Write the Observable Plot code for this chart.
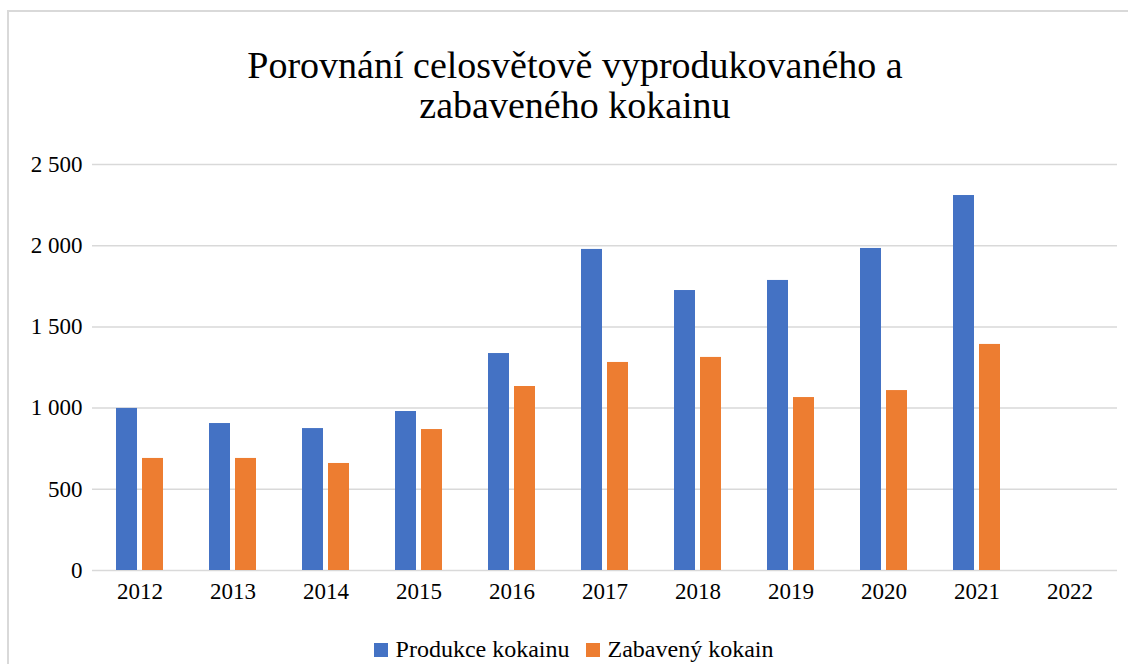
<!DOCTYPE html>
<html>
<head>
<meta charset="utf-8">
<script src="https://cdn.jsdelivr.net/npm/d3@7"></script>
<script src="https://cdn.jsdelivr.net/npm/@observablehq/plot@0.6"></script>
<style>
  html, body { margin: 0; padding: 0; background: #fff; }
  body { width: 1128px; height: 664px; overflow: hidden; position: relative; font-family: "Liberation Serif", "Times New Roman", serif; }
  #frame { position: absolute; z-index: 10; pointer-events: none; left: 7px; top: 10px; width: 1200px; height: 800px; border-top: 2px solid #d9d9d9; border-left: 2px solid #d9d9d9; box-sizing: border-box; }
  #title { position: absolute; left: 0; top: 45px; width: 1150px; text-align: center; font-size: 38px; line-height: 40px; color: #000; }
  #chart { position: absolute; left: 0; top: 140px; }
  #legend { position: absolute; left: 0; top: 636px; width: 1147px; display: flex; justify-content: center; align-items: center; font-size: 24px; color: #000; }
  .item { display: flex; align-items: center; margin: 0 8px; }
  .sw { width: 14px; height: 14px; margin-right: 8px; }
</style>
</head>
<body>
<div id="frame"></div>
<div id="title">Porovnání celosvětově vyprodukovaného a<br>zabaveného kokainu</div>
<div id="chart"></div>
<div id="legend"></div>
<script>
const years = ["2012","2013","2014","2015","2016","2017","2018","2019","2020","2021","2022"];
const seriesNames = ["Produkce kokainu", "Zabavený kokain"];
const seriesColors = ["#4472c4", "#ed7d31"];
const produkce = [998, 905, 874, 979, 1336, 1977, 1724, 1786, 1983, 2309, null];
const zabaveno = [690, 690, 659, 868, 1133, 1281, 1312, 1065, 1108, 1392, null];
const yTicks = [0, 500, 1000, 1500, 2000, 2500];

const rows = [];
years.forEach((y, i) => {
  rows.push({year: y, series: seriesNames[0], value: produkce[i]});
  rows.push({year: y, series: seriesNames[1], value: zabaveno[i]});
});
const fmt = d => d3.format(",")(d).replace(/,/g, "\u00a0");

const chart = Plot.plot({
  width: 1128,
  height: 470,
  marginTop: 24,
  marginBottom: 40,
  marginLeft: 92,
  marginRight: 11,
  style: { fontFamily: '"Liberation Serif", "Times New Roman", serif', background: "transparent", color: "#000" },
  x: { domain: years, paddingInner: 0.495, paddingOuter: 0.2475, label: null },
  y: { domain: [0, 2500], label: null },
  color: { domain: seriesNames, range: seriesColors },
  marks: [
    Plot.ruleY(yTicks, { stroke: "#d9d9d9", strokeWidth: 1.5 }),
    Plot.barY(rows.filter(d => d.series === seriesNames[0] && d.value != null), { x: "year", y: "value", fill: "series", insetRight: 26 }),
    Plot.barY(rows.filter(d => d.series === seriesNames[1] && d.value != null), { x: "year", y: "value", fill: "series", insetLeft: 26 }),
    Plot.axisY({ ticks: yTicks, tickFormat: fmt, tickSize: 0, tickPadding: 10, fontSize: 23, label: null }),
    Plot.axisX({ tickSize: 0, tickPadding: 12, fontSize: 23, label: null })
  ]
});
document.getElementById("chart").appendChild(chart);

const legend = document.getElementById("legend");
seriesNames.forEach((name, i) => {
  const item = document.createElement("div");
  item.className = "item";
  const sw = document.createElement("div");
  sw.className = "sw";
  sw.style.background = seriesColors[i];
  const t = document.createElement("span");
  t.textContent = name;
  item.appendChild(sw);
  item.appendChild(t);
  legend.appendChild(item);
});
</script>
</body>
</html>
